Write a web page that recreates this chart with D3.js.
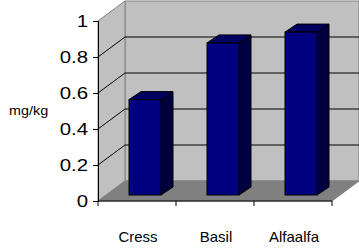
<!DOCTYPE html>
<html>
<head>
<meta charset="utf-8">
<script src="https://d3js.org/d3.v7.min.js"></script>
<style>
  body { margin: 0; background: #fff; }
  text { font-family: "Liberation Sans", Arial, sans-serif; fill: #000; }
</style>
</head>
<body>
<div id="chart"></div>
<script>
const categories = ["Cress", "Basil", "Alfaalfa"];
const values = [0.53, 0.845, 0.905];
const yTicks = [0, 0.2, 0.4, 0.6, 0.8, 1];

const width = 359, height = 250;
const svg = d3.select("#chart").append("svg")
  .attr("width", width).attr("height", height);

// front plane
const x = d3.scaleBand().domain(categories).range([98, 332]);
const y = d3.scaleLinear().domain([0, 1]).range([201, 21]);
const dx = 27, dy = -20;          // wall depth
const bx = 8, by = -6;            // bar front offset into depth
const bdx = 12, bdy = -8;         // bar depth
const bw = 32;

const pts = a => a.map(p => p.join(",")).join(" ");

// back wall
svg.append("polygon")
  .attr("points", pts([[98 + dx, y(1) + dy], [332 + dx, y(1) + dy], [332 + dx, y(0) + dy], [98 + dx, y(0) + dy]]))
  .attr("fill", "#c0c0c0").attr("stroke", "#808080");
// side wall
svg.append("polygon")
  .attr("points", pts([[98, y(1)], [98 + dx, y(1) + dy], [98 + dx, y(0) + dy], [98, y(0)]]))
  .attr("fill", "#c0c0c0").attr("stroke", "#808080");
// floor
svg.append("polygon")
  .attr("points", pts([[98, y(0)], [332, y(0)], [332 + dx, y(0) + dy], [98 + dx, y(0) + dy]]))
  .attr("fill", "#808080").attr("stroke", "#808080");

// gridlines
const grid = yTicks.filter(t => t > 0 && t < 1);
svg.selectAll(".gb").data(grid).enter().append("line")
  .attr("x1", 98 + dx).attr("x2", 332 + dx)
  .attr("y1", d => y(d) + dy).attr("y2", d => y(d) + dy)
  .attr("stroke", "#000");
svg.selectAll(".gs").data(grid).enter().append("line")
  .attr("x1", 98).attr("x2", 98 + dx)
  .attr("y1", d => y(d)).attr("y2", d => y(d) + dy)
  .attr("stroke", "#000");

// bars
const base = y(0) + by;
const bars = svg.selectAll(".bar").data(categories).enter().append("g");
bars.each(function (c, i) {
  const g = d3.select(this);
  const x0 = x(c) + (x.bandwidth() - bw) / 2 + bx;
  const top = y(values[i]) + by;
  g.append("polygon")
    .attr("points", pts([[x0 + bw, top], [x0 + bw + bdx, top + bdy], [x0 + bw + bdx, base + bdy], [x0 + bw, base]]))
    .attr("fill", "#000040").attr("stroke", "#000").attr("stroke-linejoin", "round");
  g.append("polygon")
    .attr("points", pts([[x0, top], [x0 + bdx, top + bdy], [x0 + bw + bdx, top + bdy], [x0 + bw, top]]))
    .attr("fill", "#000060").attr("stroke", "#000").attr("stroke-linejoin", "round");
  g.append("rect")
    .attr("x", x0).attr("y", top).attr("width", bw).attr("height", base - top)
    .attr("fill", "#000080").attr("stroke", "#000");
});

// axes
const yAxis = svg.append("g").attr("transform", "translate(98,0)")
  .call(d3.axisLeft(y).tickValues(yTicks).tickFormat(d3.format("~g")).tickSize(5).tickPadding(4));
yAxis.selectAll("text")
  .style("font-size", "17px")
  .attr("x", 0)
  .attr("transform", "translate(-10,0) scale(1.2,1)");
yAxis.select(".domain").attr("stroke", "#000");

svg.append("line").attr("x1", 98).attr("x2", 332).attr("y1", y(0)).attr("y2", y(0)).attr("stroke", "#000");
svg.selectAll(".xt").data(x.domain().concat([null])).enter().append("line")
  .attr("x1", d => d === null ? 332 : x(d)).attr("x2", d => d === null ? 332 : x(d))
  .attr("y1", y(0)).attr("y2", y(0) + 5).attr("stroke", "#000");

svg.selectAll(".xl").data(categories).enter().append("text")
  .attr("text-anchor", "middle")
  .attr("transform", d => `translate(${x(d) + x.bandwidth() / 2 + 1},242) scale(1.07,1)`)
  .style("font-size", "14px").text(d => d);

svg.append("text").attr("transform", "translate(9,115) scale(1.15,1)")
  .style("font-size", "12.5px").text("mg/kg");
</script>
</body>
</html>
